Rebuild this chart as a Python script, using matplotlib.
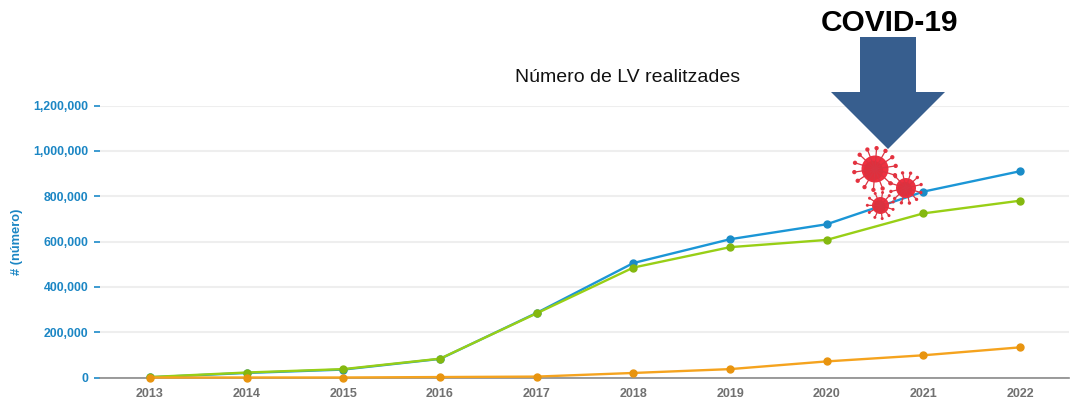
import numpy as np
import matplotlib
matplotlib.use("Agg")
import matplotlib.pyplot as plt
from matplotlib.patches import Polygon, Circle
from matplotlib.ticker import FuncFormatter

plt.rcParams['font.family'] = ['Liberation Sans', 'DejaVu Sans']

years = [2013, 2014, 2015, 2016, 2017, 2018, 2019, 2020, 2021, 2022]
serie_blava = [1000, 20000, 35000, 82000, 285000, 505000, 610000, 676000, 820000, 910000]
serie_verda = [2000, 22000, 37000, 83000, 283000, 485000, 575000, 607000, 724000, 780000]
serie_taronja = [0, 0, 0, 2000, 4000, 20000, 37000, 71000, 98000, 133000]
y_ticks = [0, 200000, 400000, 600000, 800000, 1000000, 1200000]

W, H = 1076, 411
fig = plt.figure(figsize=(W / 100, H / 100), dpi=100)

# eix principal, posat en pixels
left, right, top, bottom = 100, 1069, 105.5, 377.5
ax = fig.add_axes([left / W, 1 - bottom / H, (right - left) / W, (bottom - top) / H])

ax.plot(years, serie_blava, color='#1b96d6', lw=1.7, marker='o', ms=5, mfc='#1a8cc8', mec='#1a8cc8', zorder=3)
ax.plot(years, serie_verda, color='#98cf16', lw=1.7, marker='o', ms=5, mfc='#84b80f', mec='#84b80f', zorder=4)
ax.plot(years, serie_taronja, color='#f5a31e', lw=1.7, marker='o', ms=5, mfc='#e8940f', mec='#e8940f', zorder=5, clip_on=False)

ax.set_xlim(2013 - 50 / 96.67, 2022 + 49 / 96.67)
ax.set_ylim(0, 1200000)
ax.set_xticks(years)
ax.set_yticks(y_ticks)
ax.yaxis.set_major_formatter(FuncFormatter(lambda v, p: f'{int(v):,}'))
ax.grid(axis='y', color='#eeeeee', lw=1.5)
ax.set_axisbelow(True)
for s in ['top', 'right', 'left']:
    ax.spines[s].set_visible(False)
ax.spines['bottom'].set_color('#8a8a8a')
ax.spines['bottom'].set_linewidth(1.2)
ax.tick_params(axis='x', length=0, pad=7.5, labelsize=9, labelcolor='#707070')
ax.tick_params(axis='y', length=4.5, width=1.2, color='#1b8ac8', pad=4, labelsize=8.8, labelcolor='#1b86c4')
for t in ax.get_xticklabels() + ax.get_yticklabels():
    t.set_fontweight('bold')

# capa de sobre en pixels per a textos i dibuixos
ov = fig.add_axes([0, 0, 1, 1], zorder=10)
ov.set_xlim(0, W)
ov.set_ylim(H, 0)
ov.axis('off')

ov.text(628, 77, 'Número de LV realitzades', ha='center', va='center', fontsize=14, color='#111111')
ov.text(889, 23, 'COVID-19', ha='center', va='center', fontsize=21.5, fontweight='bold', color='black')
ov.text(17, 242, '# (número)', rotation=90, ha='center', va='center', fontsize=9.3, fontweight='bold', color='#1b86c4')

# fletxa
ov.add_patch(Polygon([(860, 37), (916, 37), (916, 92), (945, 92), (888, 149), (831, 92), (860, 92)],
                     closed=True, fc='#375e8e', ec='none'))

# virus
def virus(cx, cy, r, n=11):
    for a in np.linspace(0, 2 * np.pi, n, endpoint=False) + 0.3:
        ex, ey = cx + 1.55 * r * np.cos(a), cy + 1.55 * r * np.sin(a)
        ov.plot([cx, ex], [cy, ey], color='#d93442', lw=0.9, solid_capstyle='round')
        ov.add_patch(Circle((ex, ey), r * 0.13 + 0.4, fc='#e8323f', ec='none'))
    ov.add_patch(Circle((cx, cy), r, fc='#ee3040', ec='none'))
    ov.add_patch(Circle((cx - r * 0.12, cy + r * 0.12), r * 0.72, fc='#e02f3c', ec='none'))

virus(875, 169, 13.5, 14)
virus(906, 188, 10, 12)
virus(880.5, 205.5, 8.5, 11)

fig.savefig('out.png', dpi=100)
